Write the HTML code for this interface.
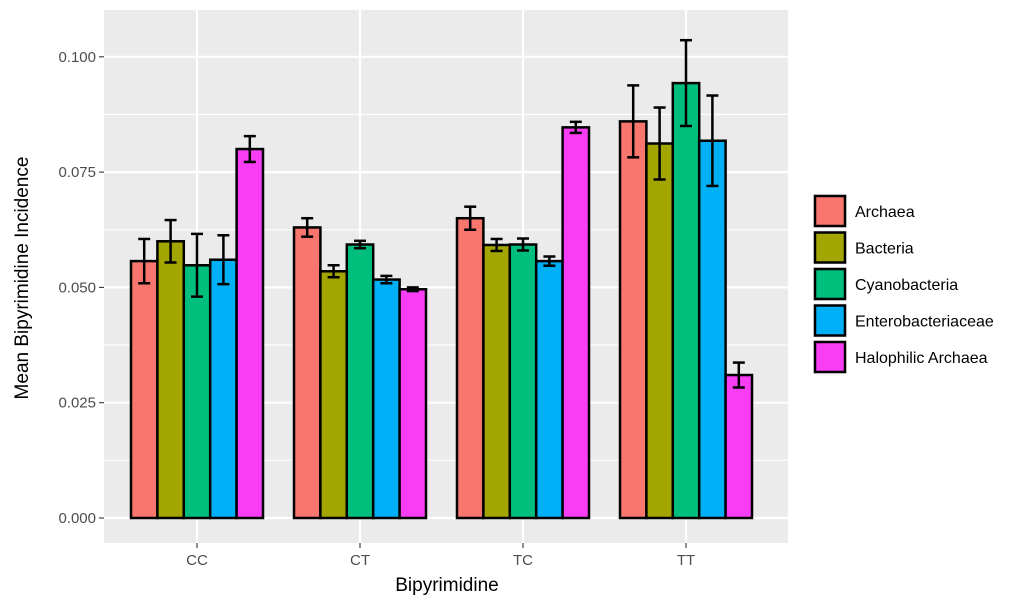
<!DOCTYPE html>
<html><head><meta charset="utf-8"><style>
body{margin:0;background:#fff;}
svg{display:block;font-family:"Liberation Sans",Arial,sans-serif;}
</style></head><body>
<svg id="chart" width="1024" height="611" viewBox="0 0 1024 611">
<rect x="104" y="10" width="684" height="533" fill="#EBEBEB"/>
<g id="grid"></g><g id="bars"></g><g id="axes"></g><g id="legend"></g>
<text x="447" y="591" text-anchor="middle" font-size="19" fill="#000">Bipyrimidine</text>
<text transform="translate(28,278) rotate(-90)" text-anchor="middle" font-size="19" fill="#000">Mean Bipyrimidine Incidence</text>
</svg>
<script>
const categories=["CC","CT","TC","TT"];
const seriesNames=["Archaea","Bacteria","Cyanobacteria","Enterobacteriaceae","Halophilic Archaea"];
const archaea=[0.0557,0.0630,0.0650,0.0860];
const bacteria=[0.0600,0.0535,0.0592,0.0812];
const cyano=[0.0548,0.0593,0.0593,0.0943];
const entero=[0.0560,0.0517,0.0557,0.0818];
const halo=[0.0800,0.0496,0.0847,0.0310];
const errArchaea=[0.0048,0.0020,0.0025,0.0078];
const errBacteria=[0.0046,0.0013,0.0013,0.0078];
const errCyano=[0.0068,0.0008,0.0013,0.0093];
const errEntero=[0.0053,0.0008,0.0010,0.0098];
const errHalo=[0.0028,0.0004,0.0012,0.0027];
const yTicks=[0,0.025,0.05,0.075,0.1];
const yTickLabels=["0.000","0.025","0.050","0.075","0.100"];
const colors=["#F8766D","#A3A500","#00BF7D","#00B0F6","#F93DF5"];
const values=[archaea,bacteria,cyano,entero,halo];
const errs=[errArchaea,errBacteria,errCyano,errEntero,errHalo];
const NS="http://www.w3.org/2000/svg";
const y=v=>518-v*4612;
const xc=i=>197+i*163;
const bw=26.4;
function mk(tag,attrs,parent){const e=document.createElementNS(NS,tag);for(const k in attrs)e.setAttribute(k,attrs[k]);parent.appendChild(e);return e;}
const grid=document.getElementById('grid'),bars=document.getElementById('bars'),axes=document.getElementById('axes'),legend=document.getElementById('legend');
for(let i=0;i<yTicks.length-1;i++){const v=(yTicks[i]+yTicks[i+1])/2;const l=mk('line',{x1:104,x2:788,y1:y(v),y2:y(v),stroke:'#fff','stroke-width':1.1},grid);

}
yTicks.forEach((v,i)=>{const l=mk('line',{x1:104,x2:788,y1:y(v),y2:y(v),stroke:'#fff','stroke-width':2.2},grid);


const t=mk('text',{x:96,y:y(v)+5,'text-anchor':'end','font-size':15,fill:'#4D4D4D'},axes);t.textContent=yTickLabels[i];


mk('line',{x1:99,x2:104,y1:y(v),y2:y(v),stroke:'#333','stroke-width':1.1},axes);});
categories.forEach((c,i)=>{const l=mk('line',{x1:xc(i),x2:xc(i),y1:10,y2:543,stroke:'#fff','stroke-width':2.2},grid);


mk('line',{x1:xc(i),x2:xc(i),y1:543,y2:548,stroke:'#333','stroke-width':1.1},axes);
const t=mk('text',{x:xc(i),y:565,'text-anchor':'middle','font-size':15,fill:'#4D4D4D'},axes);t.textContent=c;

});
categories.forEach((c,i)=>{values.forEach((s,j)=>{const x0=xc(i)-2.5*bw+j*bw;
const r=mk('rect',{x:x0,y:y(s[i]),width:bw,height:y(0)-y(s[i]),fill:colors[j],stroke:'#000','stroke-width':2.5},bars);


const cx=x0+bw/2,e=errs[j][i],top=y(s[i]+e),bot=y(s[i]-e);
const g=mk('g',{stroke:'#000','stroke-width':2.5},bars);


mk('line',{x1:cx,x2:cx,y1:top,y2:bot},g);mk('line',{x1:cx-6,x2:cx+6,y1:top,y2:top},g);mk('line',{x1:cx-6,x2:cx+6,y1:bot,y2:bot},g);});});
seriesNames.forEach((n,j)=>{const yy=193+j*36.5;const g=mk('g',{},legend);


mk('rect',{x:813,y:yy+1,width:34,height:34,fill:'#F2F2F2'},g);
mk('rect',{x:815,y:yy+3,width:30,height:30,fill:colors[j],stroke:'#000','stroke-width':2.5},g);
const t=mk('text',{x:855,y:yy+24,'font-size':16,fill:'#000'},g);t.textContent=n;});
</script>
</body></html>
